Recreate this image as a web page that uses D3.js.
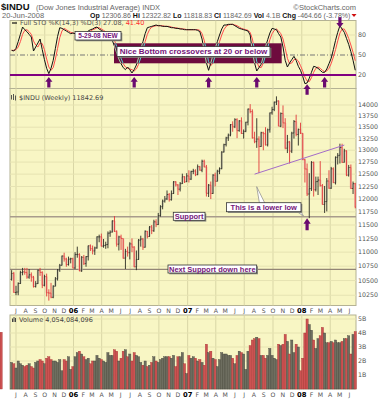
<!DOCTYPE html>
<html>
<head>
<meta charset="utf-8">
<script src="https://cdn.jsdelivr.net/npm/d3@7"></script>
<style>
body { margin: 0; background: #fff; }
svg { display: block; }
text { font-family: "DejaVu Sans", sans-serif; }
</style>
</head>
<body>
<svg id="chart" width="388" height="400"></svg>
<script>
// weekly $INDU bars, 17-Jun-2005 .. 20-Jun-2008 (158 weeks)
const weekOpen = [10520,10623,10297,10303,10449,10640,10651,10641,10558,10600,10559,10397,10447,10678,10641,10419,10568,10292,10287,10215,10402,10530,10686,10766,10931,10877,10778,10875,10883,
  10718,10959,10960,10667,10908,10794,10920,11116,11062,11022,11077,11280,11280,11109,11121,11138,11348,11368,11578,11381,11144,11279,11248,10892,11015,10990,11150,11091,10739,10869,11220,11240,11089,11382,11285,11465,11393,11561,11509,11679,11851,11961,12003,12091,11987,12109,12343,12281,12195,12307,12446,12344,
  12463,12398,12557,12566,12488,12654,12581,12768,12648,12114,12277,12111,12481,12355,12561,12613,12962,13120,13265,13327,13557,13508,13668,13425,13640,13361,13409,13612,13908,13851,13266,13182,13240,13079,13379,13358,13114,13443,13821,13896,14066,14093,13522,13807,13595,13043,13177,12981,13372,13625,13340,13451,
  13366,12800,12606,12099,12207,12743,12183,12348,12381,12266,11894,11951,12361,12216,12610,12325,12850,12892,13058,12745,12986,12480,12638,12210,12306.86];
const weekHigh = [10680,10650,10410,10470,10670,10720,10720,10720,10700,10640,10580,10490,10690,10720,10660,10600,10620,10350,10460,10420,10560,10700,10790,10940,10990,10900,10920,10900,10900,
  11000,11100,10980,10930,10950,10930,11120,11140,11120,11100,11290,11320,11340,11240,11190,11380,11400,11590,11670,11400,11300,11320,11250,11060,11100,11180,11250,11110,11030,11240,11300,11260,11400,11390,11480,11500,11600,11610,11730,11880,11990,12060,12170,12120,12170,12360,12360,12300,12340,12510,12460,12520,
  12580,12570,12610,12600,12700,12670,12800,12800,12690,12300,12350,12500,12530,12590,12640,12980,13140,13290,13360,13570,13630,13700,13700,13660,13720,13450,13620,13920,14020,13900,13400,13700,13300,13400,13400,13500,13470,13830,13960,14080,14200,14110,13830,13990,13700,13330,13200,13400,13660,13780,13470,13600,
  13370,12820,12720,12520,12770,12760,12450,12450,12770,12300,12260,12420,12580,12650,12640,12870,12940,13140,13140,13030,13000,12690,12700,12350,12322.82];
const weekLow = [10500,10290,10250,10250,10440,10590,10600,10530,10530,10480,10380,10380,10440,10580,10370,10400,10230,10160,10200,10200,10400,10500,10650,10760,10830,10740,10760,10800,10710,
  10700,10900,10660,10650,10770,10740,10850,11020,10960,10950,11060,11180,11100,11080,11060,11070,11280,11360,11370,11100,11030,11040,10880,10700,10920,10870,11000,10730,10680,10860,11100,11040,11080,11250,11280,11330,11370,11460,11500,11660,11800,11930,11980,11950,11970,12100,12250,12080,12150,12300,12320,12340,
  12330,12380,12500,12460,12480,12570,12540,12640,12050,12040,12000,12100,12250,12350,12500,12600,12950,13080,13200,13300,13400,13480,13260,13400,13350,13250,13390,13540,13810,13250,13150,13050,12520,13070,13000,13100,13080,13380,13780,13860,14000,13520,13500,13480,13020,12940,12720,12940,13250,13300,13100,13350,
  12790,12330,12060,11630,12160,12050,12150,12080,12250,11890,11730,11760,12200,12200,12320,12290,12700,12720,12730,12740,12460,12450,12200,12100,11818.83];
const weekClose = [10623,10297,10303,10449,10640,10651,10641,10558,10600,10559,10397,10447,10678,10641,10419,10568,10292,10287,10215,10402,10530,10686,10766,10931,10877,10778,10875,10883,10718,
  10959,10960,10667,10908,10794,10920,11116,11062,11022,11077,11280,11280,11109,11121,11138,11348,11368,11578,11381,11144,11279,11248,10892,11015,10990,11150,11091,10739,10869,11220,11240,11089,11382,11285,11465,11393,11561,11509,11679,11851,11961,12003,12091,11987,12109,12343,12281,12195,12307,12446,12344,12463,
  12398,12557,12566,12488,12654,12581,12768,12648,12114,12277,12111,12481,12355,12561,12613,12962,13120,13265,13327,13557,13508,13668,13425,13640,13361,13409,13612,13908,13851,13266,13182,13240,13079,13379,13358,13114,13443,13821,13896,14066,14093,13522,13807,13595,13043,13177,12981,13372,13625,13340,13451,13366,
  12800,12606,12099,12207,12743,12183,12348,12381,12266,11894,11951,12361,12216,12610,12325,12850,12892,13058,12745,12986,12480,12638,12210,12307,11842.69];
// weekly volume, billions of shares
const weekVolume = [1.9,1.8,1.5,2.0,1.8,1.7,1.6,1.7,1.8,1.6,1.5,1.9,2.0,2.1,2.0,1.8,2.2,2.3,2.1,2.0,2.0,1.9,2.1,1.3,2.1,2.0,2.3,1.4,1.6,
  2.3,2.6,2.7,2.5,2.3,2.1,2.2,1.8,2.0,2.0,2.4,2.2,2.1,2.0,1.9,2.6,2.4,2.4,2.8,2.7,2.0,2.2,2.7,2.8,2.3,2.5,2.0,2.6,2.4,2.3,1.9,1.7,2.0,1.6,1.7,1.9,2.3,2.0,1.9,2.1,2.2,2.3,2.3,2.3,2.2,2.4,1.6,2.3,2.3,2.6,1.8,1.1,
  2.4,2.2,2.3,2.2,2.0,2.1,1.9,1.7,3.2,2.6,2.7,2.2,2.1,1.6,2.1,2.6,2.5,2.5,2.4,2.4,2.2,1.8,2.4,2.7,2.6,2.5,1.4,2.7,3.1,3.5,3.6,3.7,3.6,2.4,2.4,2.2,2.4,2.9,2.4,2.2,2.1,3.2,3.1,3.2,3.9,3.4,2.5,3.5,2.6,3.2,3.0,1.3,
  2.2,4.0,5.0,4.6,4.2,3.5,2.9,3.6,3.8,4.4,4.0,3.3,3.3,3.4,3.3,3.5,3.3,3.3,3.4,3.6,3.6,3.8,2.5,3.9,4.1,4.054];
// Full STO %K(14,3) and %D(3)
const stoK = [57,56,60,70,81,92,88,85,81,77,56,62,68,74,58,43,30,22,30,42,60,78,91,90,88,86,84,82,83,82,
  81,82,81,80,83,86,88,89,91,92,89,87,85,84,83,82,72,63,53,44,37,31,28,32,28,23,28,35,46,58,
  70,82,91,92,93,94,95,94,94,93,93,93,92,91,91,90,90,89,89,88,88,88,88,88,88,87,85,74,56,38,
  27,38,50,60,70,80,89,95,95,96,96,96,94,92,90,89,88,87,86,80,55,38,26,31,36,48,62,73,83,90,
  89,88,82,77,62,42,32,38,43,48,42,33,27,18,7,8,15,24,33,32,30,27,24,24,29,37,45,58,72,84,
  94,89,84,75,66,55,42,27.08];
const stoD = [57,57,58,62,70,81,87,88,85,81,71,65,62,68,67,58,44,32,27,31,44,60,76,86,90,88,86,84,83,82,
  82,82,81,81,81,83,86,88,89,91,91,89,87,85,84,83,79,72,63,53,45,37,32,30,29,28,26,29,36,46,
  58,70,81,88,92,93,94,94,94,94,93,93,93,92,91,91,90,90,89,89,88,88,88,88,88,88,87,82,72,56,
  40,34,38,49,60,70,80,88,93,95,96,96,95,94,92,90,89,88,87,84,74,58,40,32,31,38,49,61,73,82,
  87,89,86,82,74,60,45,37,38,43,44,41,34,26,17,11,10,16,24,30,32,30,27,25,26,30,37,47,58,71,
  83,89,89,83,75,65,54,41.40];

const priceTicks = [10250,10500,10750,11000,11250,11500,11750,12000,12250,12500,12750,13000,13250,13500,13750,14000];
const volumeTicks = [1, 2, 3, 4, 5];
const stoTicks = [20, 50, 80];

const supportLevel = 11657;
const nextSupportLevel = 10694;
const trendLine = [{ date: new Date(2007, 7, 3), price: 12500 }, { date: new Date(2008, 4, 16), price: 13110 }];
const bottomArrows = [new Date(2005, 9, 14), new Date(2006, 6, 14), new Date(2007, 2, 9), new Date(2007, 7, 10), new Date(2008, 2, 14)];

const firstWeek = new Date(2005, 5, 17);
const weekDates = weekClose.map((c, i) => d3.timeDay.offset(firstWeek, 7 * i));

const svg = d3.select("#chart");
const L = 10, R = 356;
const purple = "#75157a", arrowCol = "#6a0a70", panelBg = "#f8f6c4", panelEdge = "#b4b294";

const x = d3.scaleTime().domain([new Date(2005, 6, 1), new Date(2008, 5, 1)]).range([16, 349.3]);
const yS = d3.scaleLinear().domain([0, 100]).range([88.3, 21.7]);
const yP = d3.scaleLog().domain([10079, 14384]).range([305.5, 88.5]);
const yV = d3.scaleLinear().domain([0, 5.2857]).range([389, 315]);

const quarters = d3.timeMonth.every(3).range(new Date(2005, 6, 1), new Date(2008, 6, 1));
const months = d3.timeMonth.range(new Date(2005, 6, 1), new Date(2008, 6, 1));
const up = i => weekClose[i] >= (i ? weekClose[i - 1] : weekOpen[i]);

// ---------- header ----------
const h1 = svg.append("text").attr("x", 1).attr("y", 9.5).style("font-family", "Liberation Sans, Arial, sans-serif");
h1.append("tspan").attr("font-weight", "bold").attr("font-size", 9.5).attr("fill", "#111").text("$INDU");
h1.append("tspan").attr("x", 36).attr("font-size", 7.5).attr("fill", "#666").text("(Dow Jones Industrial Average) INDX");
svg.append("text").attr("x", 356).attr("y", 9.5).attr("text-anchor", "end")
  .style("font-family", "Liberation Sans, Arial, sans-serif").attr("font-size", 7.5).attr("fill", "#666").text("©StockCharts.com");

svg.append("text").attr("x", 2).attr("y", 17.5).style("font-family", "Liberation Sans, Arial, sans-serif")
  .attr("font-size", 7.5).attr("fill", "#666").text("20-Jun-2008");
const h2 = svg.append("text").attr("x", 90).attr("y", 17.5).style("font-family", "Liberation Sans, Arial, sans-serif").attr("font-size", 7);
[["Op", "12306.86"], ["Hi", "12322.82"], ["Lo", "11818.83"], ["Cl", "11842.69"], ["Vol", "4.1B"], ["Chg", "-464.66 (-3.78%)"]].forEach((p, k) => {
  h2.append("tspan").attr("font-weight", "bold").attr("fill", "#111").text((k ? "  " : "") + p[0] + " ");
  h2.append("tspan").attr("fill", "#666").text(p[1]);
});
svg.append("path").attr("d", "M351.5,14 L356.5,14 L354,17 Z").attr("fill", "#d01010");

// ---------- panels ----------
function panel(y0, y1) {
  svg.append("rect").attr("x", L).attr("y", y0).attr("width", R - L).attr("height", y1 - y0)
    .attr("fill", panelBg).attr("stroke", panelEdge).attr("stroke-width", 1);
}
panel(20.5, 88.5);
panel(88.5, 305.5);
panel(315, 389);

const grid = svg.append("g");
[[20.5, 88.5], [88.5, 305.5], [315, 389]].forEach(p => {
  grid.selectAll(null).data(quarters).enter().append("line")
    .attr("x1", d => x(d)).attr("x2", d => x(d)).attr("y1", p[0]).attr("y2", p[1])
    .attr("stroke", "#d9d6a6").attr("stroke-width", 1);
});
grid.selectAll(null).data(priceTicks).enter().append("line")
  .attr("x1", L).attr("x2", R).attr("y1", d => yP(d)).attr("y2", d => yP(d))
  .attr("stroke", "#e6e3b2").attr("stroke-width", 1);
grid.selectAll(null).data(volumeTicks).enter().append("line")
  .attr("x1", L).attr("x2", R).attr("y1", d => yV(d)).attr("y2", d => yV(d))
  .attr("stroke", "#e6e3b2").attr("stroke-width", 1);
grid.append("line").attr("x1", L).attr("x2", R).attr("y1", yS(80)).attr("y2", yS(80))
  .attr("stroke", "#e6e3b2");

// ---------- axis labels ----------
const axisText = (g, y) => {
  g.selectAll(null).data(months).enter().append("text")
    .attr("x", d => x(d)).attr("y", y).attr("text-anchor", "middle")
    .attr("font-size", d => d.getMonth() === 0 ? 6.8 : 6.2)
    .attr("font-weight", d => d.getMonth() === 0 ? "bold" : "normal")
    .attr("fill", d => d.getMonth() === 0 ? "#000" : "#555")
    .text(d => d.getMonth() === 0 ? d3.timeFormat("%y")(d) : d3.timeFormat("%b")(d)[0]);
};
axisText(svg.append("g"), 312.5);
axisText(svg.append("g"), 397);

svg.append("g").selectAll("text").data(priceTicks).enter().append("text")
  .attr("x", 358).attr("y", d => yP(d) + 2.2).attr("font-size", 6.3).attr("fill", "#555").text(d => d);
svg.append("g").selectAll("text").data(volumeTicks).enter().append("text")
  .attr("x", 358).attr("y", d => yV(d) + 2.2).attr("font-size", 6.3).attr("fill", "#555").text(d => d + "B");
svg.append("g").selectAll("text").data(stoTicks).enter().append("text")
  .attr("x", 358).attr("y", d => yS(d) + 2.2).attr("font-size", 6.3).attr("fill", "#555").text(d => d);

// ---------- stochastic panel ----------
const sto = svg.append("g");
sto.append("line").attr("x1", L).attr("x2", R).attr("y1", yS(50)).attr("y2", yS(50))
  .attr("stroke", "#777").attr("stroke-dasharray", "5,2,1,2");
const line = d3.line().x((d, i) => x(weekDates[i])).y(d => yS(d));
sto.append("path").datum(stoD).attr("d", line).attr("fill", "none").attr("stroke", "#ff4b4b").attr("stroke-width", 1);
sto.append("path").datum(stoK).attr("d", line).attr("fill", "none").attr("stroke", "#111").attr("stroke-width", 1);
sto.append("line").attr("x1", L).attr("x2", R).attr("y1", yS(20)).attr("y2", yS(20))
  .attr("stroke", "#800080").attr("stroke-width", 2);

// legend
sto.append("line").attr("x1", 12).attr("x2", 17).attr("y1", 23).attr("y2", 23).attr("stroke", "#111").attr("stroke-width", 1.2);
const sl = sto.append("text").attr("x", 20).attr("y", 25.3).attr("font-size", 6.5).attr("fill", "#555");
sl.append("tspan").text("Full STO %K(14,3) %D(3) 27.08, ");
sl.append("tspan").attr("fill", "#ff3030").text("41.40");

// highlight rectangle with inverted lines
const hl = { x: 114, y: 43.3, w: 167.7, h: 20 };
sto.append("rect").attr("x", hl.x).attr("y", hl.y).attr("width", hl.w).attr("height", hl.h).attr("fill", "#6e0b3e");
svg.append("clipPath").attr("id", "hlclip").append("rect").attr("x", hl.x).attr("y", hl.y).attr("width", hl.w).attr("height", hl.h);
const inv = sto.append("g").attr("clip-path", "url(#hlclip)");
inv.append("path").datum(stoD).attr("d", line).attr("fill", "none").attr("stroke", "#4fd6d0").attr("stroke-width", 1);
inv.append("path").datum(stoK).attr("d", line).attr("fill", "none").attr("stroke", "#9ee0a8").attr("stroke-width", 1);

function noteBox(g, x0, y0, w, h, label, size) {
  g.append("rect").attr("x", x0 + 1.3).attr("y", y0 + 1.3).attr("width", w).attr("height", h).attr("fill", "#8a8a80");
  g.append("rect").attr("x", x0).attr("y", y0).attr("width", w).attr("height", h)
    .attr("fill", "#fff").attr("stroke", "#333").attr("stroke-width", 0.8);
  g.append("text").attr("x", x0 + w / 2).attr("y", y0 + h / 2 + size * 0.36).attr("text-anchor", "middle")
    .style("font-family", "Liberation Sans, Arial, sans-serif").attr("font-weight", "bold")
    .attr("font-size", size).attr("fill", purple).text(label);
}
noteBox(sto, 117, 46.5, 153, 10, "Nice Bottom crossovers at 20 or below", 8);
noteBox(sto, 75, 31.5, 46, 8.5, "5-29-08 NEW", 6.5);

const upArrow = "M0,0 L3.6,4.8 L1.6,4.8 L1.6,10.5 L-1.6,10.5 L-1.6,4.8 L-3.6,4.8 Z";
const downArrow = "M0,0 L3.6,-4.8 L1.6,-4.8 L1.6,-10.5 L-1.6,-10.5 L-1.6,-4.8 L-3.6,-4.8 Z";
sto.selectAll(null).data(bottomArrows).enter().append("path")
  .attr("transform", d => "translate(" + x(d) + "," + yS(17) + ")").attr("d", upArrow).attr("fill", arrowCol);
sto.append("path").attr("transform", "translate(" + x(new Date(2008, 0, 18)) + "," + yS(6) + ")").attr("d", upArrow).attr("fill", arrowCol);
sto.append("path").attr("transform", "translate(" + x(new Date(2008, 4, 2)) + "," + yS(91) + ")").attr("d", downArrow).attr("fill", arrowCol);

// ---------- price panel ----------
svg.append("clipPath").attr("id", "pclip").append("rect").attr("x", L).attr("y", 88.5).attr("width", R - L).attr("height", 217);
const pr = svg.append("g").attr("clip-path", "url(#pclip)");

pr.append("line").attr("x1", L).attr("x2", R).attr("y1", yP(supportLevel)).attr("y2", yP(supportLevel))
  .attr("stroke", "#a89c8c").attr("stroke-width", 1.4);
pr.append("line").attr("x1", L).attr("x2", R).attr("y1", yP(nextSupportLevel)).attr("y2", yP(nextSupportLevel))
  .attr("stroke", "#938676").attr("stroke-width", 1.3);

const bars = pr.selectAll("g.bar").data(weekClose).enter().append("g").attr("class", "bar");
bars.append("rect")
  .attr("x", (d, i) => x(weekDates[i]) - 1.1).attr("width", 2.2)
  .attr("y", (d, i) => yP(Math.max(weekOpen[i], d)))
  .attr("height", (d, i) => Math.max(1, yP(Math.min(weekOpen[i], d)) - yP(Math.max(weekOpen[i], d))))
  .attr("fill", (d, i) => up(i) ? "#c9c9b0" : "#efb8a8").attr("opacity", 0.8);
bars.append("line")
  .attr("x1", (d, i) => x(weekDates[i])).attr("x2", (d, i) => x(weekDates[i]))
  .attr("y1", (d, i) => yP(weekHigh[i])).attr("y2", (d, i) => yP(weekLow[i]))
  .attr("stroke", (d, i) => up(i) ? "#2a2a22" : "#e03a3a").attr("stroke-width", 0.9);
bars.append("line")
  .attr("x1", (d, i) => x(weekDates[i]) - 1).attr("x2", (d, i) => x(weekDates[i]))
  .attr("y1", (d, i) => yP(weekOpen[i])).attr("y2", (d, i) => yP(weekOpen[i]))
  .attr("stroke", (d, i) => up(i) ? "#2a2a22" : "#e03a3a").attr("stroke-width", 0.8);
bars.append("line")
  .attr("x1", (d, i) => x(weekDates[i])).attr("x2", (d, i) => x(weekDates[i]) + 1)
  .attr("y1", d => yP(d)).attr("y2", d => yP(d))
  .attr("stroke", (d, i) => up(i) ? "#2a2a22" : "#e03a3a").attr("stroke-width", 0.8);

pr.append("line")
  .attr("x1", x(trendLine[0].date)).attr("y1", yP(trendLine[0].price))
  .attr("x2", x(trendLine[1].date)).attr("y2", yP(trendLine[1].price))
  .attr("stroke", "#a46cc8").attr("stroke-width", 1);

// legend
const pl = svg.append("g");
[[11.5, 95, 99.5], [13.5, 94, 100], [15.5, 95.5, 100.5]].forEach(b => {
  pl.append("line").attr("x1", b[0]).attr("x2", b[0]).attr("y1", b[1]).attr("y2", b[2]).attr("stroke", "#444").attr("stroke-width", 0.9);
});
pl.append("text").attr("x", 19).attr("y", 100).attr("font-size", 6.5).attr("fill", "#444").text("$INDU (Weekly) 11842.69");

// callouts
const ann = svg.append("g");
ann.append("path").attr("d", "M256.7,186.7 L259.5,203.5 L265,203.5 Z").attr("fill", "#fff").attr("stroke", "#888").attr("stroke-width", 0.7);
ann.append("path").attr("d", "M303.5,216 L296,203.5 L296,211 Z").attr("fill", "#fff").attr("stroke", "#888").attr("stroke-width", 0.7);
noteBox(ann, 226.5, 202.7, 74.5, 9, "This is a lower low", 7.5);
noteBox(ann, 173.3, 212.3, 31.7, 8, "Support", 7.5);
noteBox(ann, 168, 265, 88.7, 8, "Next Support down here", 7.5);
ann.append("path").attr("transform", "translate(" + x(new Date(2008, 0, 18)) + "," + yP(11630) + ")").attr("d", upArrow)
  .attr("fill", arrowCol).attr("transform", "translate(" + x(new Date(2008, 0, 18)) + "," + yP(11630) + ") scale(1,1.15)");

// ---------- volume panel ----------
const vol = svg.append("g");
vol.selectAll("rect").data(weekVolume).enter().append("rect")
  .attr("x", (d, i) => x(weekDates[i]) - 1.1).attr("width", 2.2)
  .attr("y", d => yV(d)).attr("height", d => yV(0) - yV(d))
  .attr("fill", (d, i) => up(i) ? "#6e6e60" : "#cc5252")
  .attr("stroke", (d, i) => up(i) ? "#45453c" : "#a83434").attr("stroke-width", 0.4);
[[12, 318.5], [13.5, 317], [15, 318]].forEach(b => {
  vol.append("rect").attr("x", b[0]).attr("y", b[1]).attr("width", 1).attr("height", 322 - b[1]).attr("fill", "#444");
});
vol.append("text").attr("x", 19).attr("y", 322).attr("font-size", 6.5).attr("fill", "#444").text("Volume 4,054,084,096");
</script>
</body>
</html>
